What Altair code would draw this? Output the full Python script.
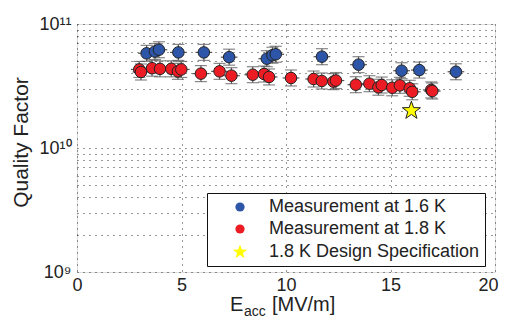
import altair as alt
import pandas as pd

# ---- data ----
blue_x = [3.33, 3.73, 3.92, 4.85, 6.07, 7.28, 9.08, 9.35, 9.51, 11.72, 13.47, 15.53, 16.38, 18.13]
blue_q = [5.8e10, 6.0e10, 6.2e10, 5.9e10, 5.9e10, 5.4e10, 5.25e10, 5.6e10, 5.7e10, 5.45e10, 4.7e10, 4.2e10, 4.25e10, 4.12e10]

red_x = [2.98, 3.06, 3.59, 3.97, 4.51, 4.83, 4.99, 5.93, 6.82, 7.39, 8.41, 8.95, 9.19, 10.24,
         11.32, 11.71, 12.27, 12.39, 13.34, 13.99, 14.42, 14.58, 15.08, 15.45, 15.92, 16.04, 16.95, 17.0]
red_q = [4.3e10, 4.1e10, 4.4e10, 4.35e10, 4.35e10, 4.15e10, 4.3e10, 3.98e10, 4.15e10, 3.83e10, 3.9e10, 3.95e10, 3.74e10, 3.67e10,
         3.6e10, 3.47e10, 3.43e10, 3.5e10, 3.24e10, 3.3e10, 3.09e10, 3.22e10, 3.06e10, 3.2e10, 3.03e10, 2.84e10, 2.94e10, 2.88e10]

spec_x = [16.0]
spec_q = [2.0e10]

series_names = ["Measurement at 1.6 K", "Measurement at 1.8 K", "1.8 K Design Specification"]
series_fill = ["#2d56a8", "#ec1c24", "#ffff00"]
# five-pointed star, drawn a bit larger than the unit circle so it reads like the reference
STAR = ("M0,-1.65L0.388,-0.535L1.569,-0.51L0.627,0.205L0.97,1.335L0,0.66L-0.97,1.335"
        "L-0.627,0.205L-1.569,-0.51L-0.388,-0.535Z")
series_shape = ["circle", "circle", STAR]

q_rel_err = 0.16   # relative vertical uncertainty
e_err = 0.4        # horizontal uncertainty in MV/m

x_ticks = [0, 5, 10, 15, 20]
y_ticks = [1e9, 2e9, 3e9, 4e9, 5e9, 6e9, 7e9, 8e9, 9e9,
           1e10, 2e10, 3e10, 4e10, 5e10, 6e10, 7e10, 8e10, 9e10, 1e11]

rows = []
for x, q in zip(blue_x, blue_q):
    rows.append({"E": x, "Q": q, "series": series_names[0]})
for x, q in zip(red_x, red_q):
    rows.append({"E": x, "Q": q, "series": series_names[1]})
meas = pd.DataFrame(rows)
meas["Qlo"] = meas["Q"] / (1 + q_rel_err)
meas["Qhi"] = meas["Q"] * (1 + q_rel_err)
meas["Elo"] = meas["E"] - e_err
meas["Ehi"] = meas["E"] + e_err

spec = pd.DataFrame({"E": spec_x, "Q": spec_q, "series": [series_names[2]]})
pts = pd.concat([meas[["E", "Q", "series"]], spec], ignore_index=True)

FONT = "Liberation Sans"

xs = alt.Scale(domain=[0, 20], nice=False)
ys = alt.Scale(type="log", domain=[1e9, 1e11], nice=False)

xaxis = alt.Axis(values=x_ticks, title=None, grid=True, gridDash=[1, 5], gridColor="#333",
                 ticks=False, domain=False, labelFontSize=18, labelFont=FONT, labelColor="#222",
                 labelFlush=False, labelPadding=4,
                 labelAlign={"condition": {"test": "datum.value == 20", "value": "right"}, "value": "center"},
                 labelOffset={"condition": {"test": "datum.value == 20", "value": 3}, "value": 0})
yaxis = alt.Axis(values=y_ticks, grid=True, gridDash=[1, 5], gridColor="#333", ticks=False, domain=False,
                 labelExpr="datum.value == 1e9 ? '10⁹' : datum.value == 1e10 ? '10¹⁰' : datum.value == 1e11 ? '10¹¹' : ''",
                 labelFontSize=18, labelFont=FONT, labelColor="#222", labelOverlap=False, labelPadding=6,
                 title="Quality Factor", titleFontSize=21, titleFont=FONT, titleFontWeight="normal",
                 titleColor="#222", titleX=-50, titleY=118, titleAngle=270, titleAlign="center",
                 titleBaseline="alphabetic")

err_color = "#555"

vbars = alt.Chart(meas).mark_rule(color=err_color, strokeWidth=1.2).encode(
    x=alt.X("E:Q", scale=xs, axis=xaxis),
    y=alt.Y("Qlo:Q", scale=ys, axis=yaxis),
    y2="Qhi:Q",
)
hbars = alt.Chart(meas).mark_rule(color=err_color, strokeWidth=1.2).encode(
    x="Elo:Q", x2="Ehi:Q", y="Q:Q"
)
cap_lo = alt.Chart(meas).mark_tick(orient="horizontal", size=12, thickness=1.2, color=err_color).encode(
    x="E:Q", y="Qlo:Q"
)
cap_hi = alt.Chart(meas).mark_tick(orient="horizontal", size=12, thickness=1.2, color=err_color).encode(
    x="E:Q", y="Qhi:Q"
)

legend = alt.Legend(title=None, orient="none", legendX=130, legendY=169, padding=5,
                    strokeColor="#111", fillColor="white", labelFontSize=18, labelFont=FONT,
                    labelColor="#222", labelLimit=400, rowPadding=4, symbolOffset=19,
                    labelOffset=20, symbolSize=85, symbolStrokeColor="#222", symbolStrokeWidth=1)

points = alt.Chart(pts).mark_point(filled=True, opacity=1, stroke="#222", strokeWidth=1, size=133).encode(
    x="E:Q",
    y="Q:Q",
    fill=alt.Fill("series:N", scale=alt.Scale(domain=series_names, range=series_fill), legend=legend),
    shape=alt.Shape("series:N", scale=alt.Scale(domain=series_names, range=series_shape), legend=legend),
)

title_parts = ["E", "acc", "[MV/m]"]
xtitle_E = alt.Chart(pd.DataFrame({"t": [title_parts[0]]})).mark_text(
    font=FONT, fontSize=20, align="left", baseline="alphabetic", color="#222").encode(
    text="t:N", x=alt.value(153), y=alt.value(287))
xtitle_acc = alt.Chart(pd.DataFrame({"t": [title_parts[1]]})).mark_text(
    font=FONT, fontSize=14, align="left", baseline="alphabetic", color="#222").encode(
    text="t:N", x=alt.value(167), y=alt.value(292))
xtitle_unit = alt.Chart(pd.DataFrame({"t": [title_parts[2]]})).mark_text(
    font=FONT, fontSize=20, align="left", baseline="alphabetic", color="#222").encode(
    text="t:N", x=alt.value(195), y=alt.value(287))

chart = alt.layer(hbars, vbars, cap_lo, cap_hi, points, xtitle_E, xtitle_acc, xtitle_unit).properties(
    width=418, height=248,
    autosize=alt.AutoSizeParams(type="none"),
    padding={"left": 69, "top": 16, "right": 4, "bottom": 46},
).configure_view(stroke="#111", strokeWidth=1.2).configure(background="white")

chart.save("out.html", embed_options={"renderer": "svg", "actions": False})
